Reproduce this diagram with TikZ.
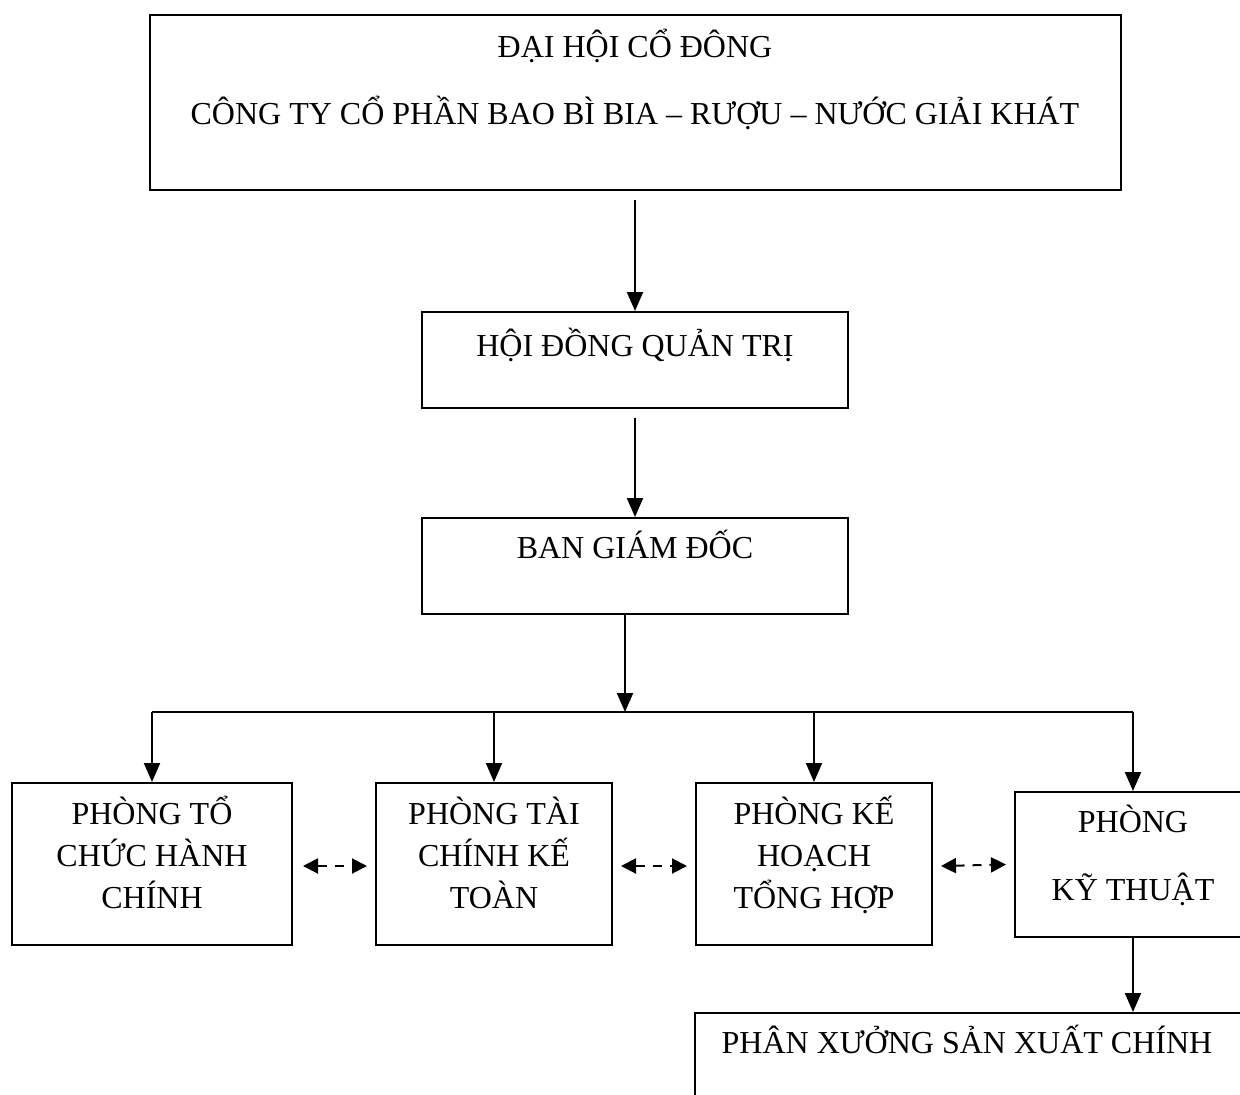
\documentclass[tikz,border=0pt]{standalone}
\usepackage{fontspec}
\setmainfont{Liberation Serif}
\usetikzlibrary{arrows.meta}
\tikzset{
  box/.style={draw, line width=2pt, inner sep=0pt, rectangle},
  lbl/.style={inner sep=0pt, anchor=base, font=\fontsize{32}{42}\selectfont, align=center},
  down/.style={line width=2pt, -{Triangle[width=16pt,length=19pt]}},
  link/.style={line width=2pt, dash pattern=on 9pt off 8pt,
    {Triangle[width=15pt,length=15pt]}-{Triangle[width=15pt,length=15pt]}},
  wire/.style={line width=2pt}
}
\begin{document}
\begin{tikzpicture}[x=1pt,y=-1pt]
\useasboundingbox (0,0) rectangle (1240,1095);
\begin{scope}
\clip (0,0) rectangle (1240,1095);
% top level
\node[box, minimum width=971pt, minimum height=175pt] (dhcd) at (635.5,102.5) {};
\node[lbl] (dhcdA) at (635,57) {ĐẠI HỘI CỔ ĐÔNG};
\node[lbl] (dhcdB) at (635,124) {CÔNG TY CỔ PHẦN BAO BÌ BIA – RƯỢU – NƯỚC GIẢI KHÁT};
% board
\node[box, minimum width=426pt, minimum height=96pt] (hdqt) at (635,360) {};
\node[lbl] (hdqtT) at (635,356) {HỘI ĐỒNG QUẢN TRỊ};
% management
\node[box, minimum width=426pt, minimum height=96pt] (bgd) at (635,566) {};
\node[lbl] (bgdT) at (635,558) {BAN GIÁM ĐỐC};
% departments (base = baseline of the last line)
\node[box, minimum width=280pt, minimum height=162pt] (p1) at (152,864) {};
\node[lbl] (p1T) at (152,908) {PHÒNG TỔ\\CHỨC HÀNH\\CHÍNH};
\node[box, minimum width=236pt, minimum height=162pt] (p2) at (494,864) {};
\node[lbl] (p2T) at (494,908) {PHÒNG TÀI\\CHÍNH KẾ\\TOÀN};
\node[box, minimum width=236pt, minimum height=162pt] (p3) at (814,864) {};
\node[lbl] (p3T) at (814,908) {PHÒNG KẾ\\HOẠCH\\TỔNG HỢP};
\node[box, minimum width=240pt, minimum height=145pt] (p4) at (1135,864.5) {};
\node[lbl, font=\fontsize{32}{68}\selectfont] (p4T) at (1133,900) {PHÒNG\\KỸ THUẬT};
% workshop
\node[box, minimum width=560pt, minimum height=120pt] (px) at (975,1073) {};
\node[lbl] (pxT) at (967,1053) {PHÂN XƯỞNG SẢN XUẤT CHÍNH};
% connectors
\coordinate (s1) at (635,200);
\draw[down] (s1) -- (hdqt.north);
\coordinate (s2) at (635,418);
\draw[down] (s2) -- (bgd.north);
\coordinate (bus) at (625,712);
\coordinate (busL) at (152,712);
\coordinate (busR) at (1133,712);
\draw[down] (bgd.south -| bus) -- (bus);
\draw[wire] (busL) -- (busR);
\draw[down] (busL) -- (p1.north);
\draw[down] (bus -| p2.north) -- (p2.north);
\draw[down] (bus -| p3.north) -- (p3.north);
\draw[down] (busR) -- (busR |- p4.north);
\draw[down] (p4.south -| busR) -- (busR |- px.north);
\draw[link] ([xshift=10pt,yshift=-2pt]p1.east) -- ([xshift=-8pt,yshift=-2pt]p2.west);
\draw[link] ([xshift=8pt,yshift=-2pt]p2.east) -- ([xshift=-8pt,yshift=-2pt]p3.west);
\draw[link] ([xshift=8pt,yshift=-2pt]p3.east) -- ([xshift=-8pt]p4.west);
\end{scope}
\end{tikzpicture}
\end{document}
